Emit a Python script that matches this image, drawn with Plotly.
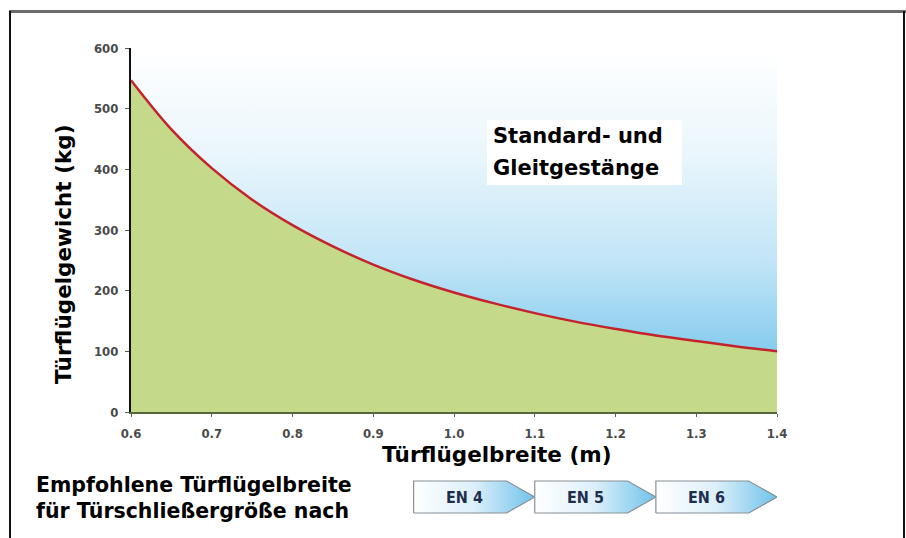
import plotly.graph_objects as go

# ---- data ----
width_m = [0.6, 0.65, 0.7, 0.75, 0.8, 0.85, 0.9, 0.95, 1.0, 1.05, 1.1, 1.15, 1.2, 1.25, 1.3, 1.35, 1.4]
weight_kg = [547, 466, 402, 350, 308, 273, 243, 218, 197, 179, 163, 149, 137, 126, 117, 108, 100]
sky_top = [600] * len(width_m)

x_ticks = [0.6, 0.7, 0.8, 0.9, 1.0, 1.1, 1.2, 1.3, 1.4]
y_ticks = [0, 100, 200, 300, 400, 500, 600]

en_labels = ["EN 4", "EN 5", "EN 6"]
en_start = [0.95, 1.1, 1.25]
en_end = [1.1, 1.25, 1.4]
en_tip = 0.035

W, H = 906, 538
L, R, T, B = 131, 129, 48, 20
PW, PH = W - L - R, H - T - B


def px_x(p):
    return (p - L) / PW


def px_y(p):
    return (H - B - p) / PH


fig = go.Figure()

# green area under curve
fig.add_trace(go.Scatter(x=width_m, y=weight_kg, mode="lines", line=dict(width=0, shape="spline"),
                         fill="tozeroy", fillcolor="#c5d98b", hoverinfo="skip", showlegend=False))
# blue gradient above curve
fig.add_trace(go.Scatter(x=width_m, y=sky_top, mode="lines", line=dict(width=0),
                         fill="tonexty",
                         fillgradient=dict(type="vertical", start=100, stop=600,
                                           colorscale=[[0, "#86ccee"], [0.3, "#c2e5f7"],
                                                       [0.65, "#eaf6fc"], [1, "#ffffff"]]),
                         hoverinfo="skip", showlegend=False))
# red line
fig.add_trace(go.Scatter(x=width_m, y=weight_kg, mode="lines",
                         line=dict(color="#c4232b", width=2.5, shape="spline"),
                         showlegend=False))

# EN arrows on secondary axis
for lab, s, e in zip(en_labels, en_start, en_end):
    xs = [s, e - en_tip, e, e - en_tip, s, s]
    ys = [0, 0, 0.5, 1, 1, 0]
    fig.add_trace(go.Scatter(x=xs, y=ys, yaxis="y2", mode="lines",
                             line=dict(color="#8a8f95", width=1.2),
                             fill="toself",
                             fillgradient=dict(type="horizontal",
                                               colorscale=[[0, "#ffffff"], [0.5, "#dceffa"], [1, "#6fc3ea"]]),
                             hoverinfo="skip", showlegend=False))
    fig.add_annotation(x=(s + e - en_tip) / 2 + 0.005, y=0.5, xref="x", yref="y2", text="<b>" + lab + "</b>",
                       xanchor="center", yanchor="middle",
                       showarrow=False, font=dict(family="DejaVu Sans Condensed", size=16, color="#1e2f4d"))

tick_font = dict(family="DejaVu Sans Condensed", size=13, color="#4a4a4a", weight="bold")
fig.update_layout(
    width=W, height=H,
    margin=dict(l=L, r=R, t=T, b=B),
    paper_bgcolor="white", plot_bgcolor="white",
    xaxis=dict(range=[0.6, 1.4], tickvals=x_ticks, ticktext=[f"{v:.1f}" for v in x_ticks],
               showgrid=False, zeroline=False, showline=True, linecolor="#56663f", linewidth=2,
               ticks="outside", ticklen=3, tickcolor="#56663f", anchor="y", tickfont=tick_font,
               ticklabelstandoff=5),
    yaxis=dict(range=[0, 600], tickvals=y_ticks, domain=[px_y(412), 1],
               showgrid=False, zeroline=False, showline=True, linecolor="#111111", linewidth=2,
               ticks="outside", ticklen=4, tickcolor="#555555", tickfont=tick_font,
               ticklabelstandoff=4),
    yaxis2=dict(range=[-0.1, 1.1], domain=[px_y(516.2), px_y(477.8)], visible=False, anchor="x"),
)

# frame
fig.add_shape(type="line", xref="paper", yref="paper", x0=px_x(9), x1=px_x(906), y0=px_y(11.5), y1=px_y(11.5),
              line=dict(color="#6b6b6b", width=3))
fig.add_shape(type="line", xref="paper", yref="paper", x0=px_x(10), x1=px_x(10), y0=px_y(11), y1=px_y(540),
              line=dict(color="#111111", width=2))
fig.add_shape(type="line", xref="paper", yref="paper", x0=px_x(904), x1=px_x(904), y0=px_y(11), y1=px_y(540),
              line=dict(color="#111111", width=2))

# white box behind label
fig.add_shape(type="rect", xref="paper", yref="paper", x0=px_x(487), x1=px_x(682), y0=px_y(185), y1=px_y(120),
              fillcolor="white", line=dict(width=0))

title_font = dict(family="DejaVu Sans", size=20, color="#000000", weight="bold")
fig.add_annotation(xref="paper", yref="paper", x=px_x(491), y=px_y(136), xanchor="left", yanchor="middle",
                   text="Standard- und", showarrow=False, font=dict(title_font, size=21))
fig.add_annotation(xref="paper", yref="paper", x=px_x(491), y=px_y(168), xanchor="left", yanchor="middle",
                   text="Gleitgestänge", showarrow=False, font=dict(title_font, size=21))
fig.add_annotation(xref="paper", yref="paper", x=px_x(63), y=px_y(255), textangle=-90,
                   xanchor="center", yanchor="middle",
                   text="Türflügelgewicht (kg)", showarrow=False, font=dict(title_font, size=21.5))
fig.add_annotation(xref="paper", yref="paper", x=px_x(496), y=px_y(454),
                   xanchor="center", yanchor="middle",
                   text="Türflügelbreite (m)", showarrow=False, font=dict(title_font, size=21.5))
fig.add_annotation(xref="paper", yref="paper", x=px_x(34), y=px_y(485), xanchor="left", yanchor="middle",
                   text="Empfohlene Türflügelbreite", showarrow=False, font=dict(title_font, size=20.5))
fig.add_annotation(xref="paper", yref="paper", x=px_x(34), y=px_y(511), xanchor="left", yanchor="middle",
                   text="für Türschließergröße nach", showarrow=False, font=dict(title_font, size=20.5))

fig.write_html("out.html", config={"displayModeBar": False},
               post_script="document.body.style.margin='0px';document.body.style.overflow='hidden';")
